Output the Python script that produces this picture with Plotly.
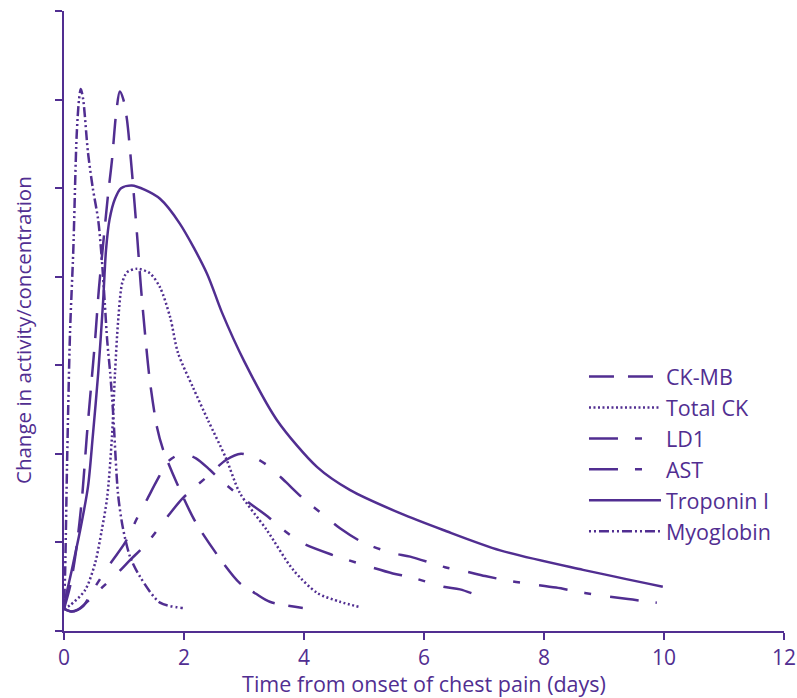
import plotly.graph_objects as go

PURPLE = "#512E91"

# ---- data (days, relative change) ----
ckmb_x = [0, 0.1, 0.2, 0.3, 0.38, 0.45, 0.52, 0.58, 0.65, 0.73, 0.8, 0.87, 0.93, 0.99, 1.05, 1.13, 1.22, 1.28, 1.35, 1.43, 1.55, 1.65, 1.88, 2.2, 2.65, 2.93, 3.2, 3.43, 3.98]
ckmb_y = [0.25, 0.5, 0.9, 1.5, 2.2, 2.75, 3.3, 3.85, 4.35, 4.9, 5.32, 5.85, 6.09, 6.0, 5.77, 5.2, 4.45, 3.9, 3.36, 2.83, 2.3, 2.05, 1.67, 1.22, 0.77, 0.54, 0.42, 0.33, 0.26]

totck_x = [0, 0.1, 0.35, 0.52, 0.63, 0.72, 0.8, 0.85, 0.9, 0.97, 1.05, 1.22, 1.43, 1.6, 1.77, 1.9, 2.15, 2.4, 2.7, 2.93, 3.38, 3.82, 4.22, 4.6, 4.93]
totck_y = [0.25, 0.29, 0.46, 0.77, 1.14, 1.51, 2.2, 2.91, 3.48, 3.93, 4.05, 4.09, 4.04, 3.88, 3.54, 3.14, 2.75, 2.38, 1.95, 1.56, 1.14, 0.69, 0.43, 0.33, 0.27]

ld1_x = [0, 0.12, 0.23, 0.45, 0.65, 0.9, 1.1, 1.38, 1.77, 1.98, 2.38, 2.7, 2.95, 3.2, 3.43, 3.7, 3.98, 4.38, 4.6, 4.98, 5.47, 5.77, 6.35, 6.65, 7.02, 7.48, 8.2, 8.68, 9.4, 9.88]
ld1_y = [0.25, 0.22, 0.24, 0.37, 0.5, 0.66, 0.8, 0.99, 1.33, 1.5, 1.74, 1.93, 2.0, 1.95, 1.85, 1.68, 1.5, 1.28, 1.16, 1.0, 0.88, 0.84, 0.72, 0.68, 0.62, 0.56, 0.49, 0.43, 0.36, 0.32]

ast_x = [0, 0.12, 0.23, 0.32, 0.5, 0.77, 1.02, 1.23, 1.38, 1.55, 1.73, 1.85, 1.98, 2.2, 2.43, 2.65, 2.98, 3.4, 3.68, 3.98, 4.47, 4.88, 5.48, 5.77, 6.32, 6.6, 6.98]
ast_y = [0.25, 0.22, 0.24, 0.28, 0.48, 0.76, 1.0, 1.29, 1.48, 1.7, 1.91, 1.97, 2.0, 1.95, 1.82, 1.68, 1.5, 1.29, 1.13, 0.99, 0.86, 0.77, 0.65, 0.61, 0.5, 0.47, 0.38]

trop_x = [0, 0.02, 0.13, 0.27, 0.4, 0.48, 0.57, 0.65, 0.7, 0.76, 0.85, 0.95, 1.13, 1.35, 1.6, 1.93, 2.38, 2.63, 3.0, 3.55, 4.22, 4.77, 5.6, 6.32, 7.27, 8.65, 9.98]
trop_y = [0.25, 0.35, 0.69, 1.14, 1.63, 2.2, 2.91, 3.7, 4.3, 4.65, 4.88, 5.0, 5.03, 4.98, 4.88, 4.6, 4.04, 3.6, 3.05, 2.38, 1.85, 1.59, 1.33, 1.14, 0.91, 0.69, 0.5]

myo_x = [0, 0.02, 0.05, 0.1, 0.155, 0.21, 0.25, 0.28, 0.32, 0.4, 0.48, 0.57, 0.63, 0.68, 0.72, 0.77, 0.82, 0.9, 0.98, 1.1, 1.27, 1.6, 1.98]
myo_y = [0.25, 0.7, 1.85, 3.36, 4.3, 5.58, 6.0, 6.12, 6.0, 5.4, 5.0, 4.64, 4.2, 3.7, 3.28, 2.91, 2.45, 1.55, 1.17, 0.84, 0.61, 0.32, 0.26]

x_ticks = [0, 2, 4, 6, 8, 10, 12]
y_ticks = [0, 1, 2, 3, 4, 5, 6, 7]

x_title = "Time from onset of chest pain (days)"
y_title = "Change in activity/concentration"

series = [
    ("CK-MB", ckmb_x, ckmb_y, "25px,14px"),
    ("Total CK", totck_x, totck_y, "2px,2.5px"),
    ("LD1", ld1_x, ld1_y, "29px,17px,7px,19px"),
    ("AST", ast_x, ast_y, "29px,17px,7px,19px"),
    ("Troponin I", trop_x, trop_y, "solid"),
    ("Myoglobin", myo_x, myo_y, "2px,3px,2px,3px,10px,3px"),
]

FONT = "Open Sans, Liberation Sans, Arial, sans-serif"

fig = go.Figure()
for name, xs, ys, dash in series:
    fig.add_trace(go.Scatter(
        x=xs, y=ys, name=name, mode="lines",
        line=dict(color=PURPLE, width=2.5, dash=dash, shape="spline", smoothing=0.8),
        hoverinfo="skip",
    ))

fig.add_annotation(
    text=y_title, textangle=-90, xref="paper", yref="paper",
    x=-0.0569, y=0.4855, xanchor="center", yanchor="middle", showarrow=False,
    font=dict(size=20.5, color=PURPLE, family=FONT),
)

fig.update_layout(
    width=797, height=698,
    margin=dict(l=64, r=13, t=11, b=67),
    paper_bgcolor="white", plot_bgcolor="white",
    font=dict(family=FONT, color=PURPLE, size=21),
    showlegend=True,
    legend=dict(
        x=0.7222, y=0.4435, xanchor="left", yanchor="top",
        bgcolor="rgba(0,0,0,0)", itemwidth=72,
        font=dict(size=21.5, color=PURPLE, family=FONT),
    ),
    xaxis=dict(
        range=[0, 12], tickvals=x_ticks, ticks="outside", ticklen=7, tickwidth=1.5,
        tickcolor=PURPLE, showline=True, linecolor=PURPLE, linewidth=1.5,
        showgrid=False, zeroline=False, tickfont=dict(size=21, color=PURPLE),
        title=dict(text=x_title, font=dict(size=21.5, color=PURPLE), standoff=6),
        automargin=False,
    ),
    yaxis=dict(
        range=[0, 7], tickvals=y_ticks, ticks="outside", ticklen=7, tickwidth=1.5,
        tickcolor=PURPLE, showline=True, linecolor=PURPLE, linewidth=1.5,
        showgrid=False, zeroline=False, showticklabels=False,
        automargin=False,
    ),
)

fig.write_html(
    "out.html",
    config={"displayModeBar": False},
    post_script="document.body.style.margin='0px';document.body.style.overflow='hidden';",
)
